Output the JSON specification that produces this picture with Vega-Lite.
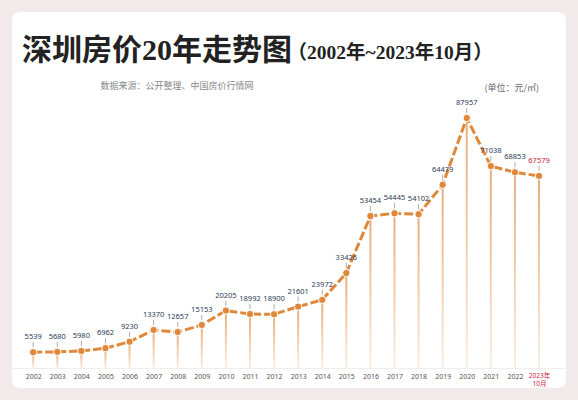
{
  "$schema": "https://vega.github.io/schema/vega-lite/v6.json",
  "width": 554,
  "height": 376,
  "autosize": "none",
  "padding": {"left": 12, "top": 12, "right": 12, "bottom": 12},
  "background": "#f2eaea",
  "config": {
    "view": {"fill": "white", "stroke": null, "cornerRadius": 8}
  },
  "title": {
    "text": "深圳房价20年走势图",
    "anchor": "start",
    "frame": "group",
    "font": "Liberation Serif, Noto Sans CJK SC",
    "fontSize": 30,
    "fontWeight": "bold",
    "color": "#222222",
    "baseline": "alphabetic",
    "offset": 0,
    "dx": 10,
    "dy": 78
  },
  "data": {
    "values": [
      {"year": "2002", "price": 5539},
      {"year": "2003", "price": 5680},
      {"year": "2004", "price": 5980},
      {"year": "2005", "price": 6962},
      {"year": "2006", "price": 9230},
      {"year": "2007", "price": 13370},
      {"year": "2008", "price": 12657},
      {"year": "2009", "price": 15153},
      {"year": "2010", "price": 20205},
      {"year": "2011", "price": 18992},
      {"year": "2012", "price": 18900},
      {"year": "2013", "price": 21601},
      {"year": "2014", "price": 23972},
      {"year": "2015", "price": 33426},
      {"year": "2016", "price": 53454},
      {"year": "2017", "price": 54445},
      {"year": "2018", "price": 54102},
      {"year": "2019", "price": 64479},
      {"year": "2020", "price": 87957},
      {"year": "2021", "price": 71038},
      {"year": "2022", "price": 68853},
      {"year": "2023", "price": 67579}
    ]
  },
  "resolve": {"axis": {"x": "independent", "y": "independent"}},
  "layer": [
    {
      "mark": {
        "type": "bar",
        "size": 2,
        "color": {
          "gradient": "linear",
          "x1": 0, "y1": 0, "x2": 0, "y2": 1,
          "stops": [
            {"offset": 0, "color": "#e8ac78"},
            {"offset": 1, "color": "#fbeee3"}
          ]
        }
      },
      "encoding": {
        "x": {
          "field": "year",
          "type": "ordinal",
          "scale": {"type": "point", "padding": 1.055, "align": 0.44},
          "axis": {
            "orient": "bottom",
            "title": null,
            "offset": -20,
            "ticks": false,
            "domainColor": "#eeeeee",
            "labelAngle": 0,
            "labelOverlap": false,
            "labelFont": "Noto Sans, Noto Sans CJK SC",
            "labelFontSize": {"condition": {"test": "datum.label == '2023'", "value": 6.5}, "value": 7},
            "labelPadding": 4,
            "labelBaseline": "top",
            "labelLineHeight": 8,
            "labelColor": {"condition": {"test": "datum.label == '2023'", "value": "#c8203a"}, "value": "#555555"},
            "labelExpr": "datum.label == '2023' ? ['2023年', '10月'] : datum.label"
          }
        },
        "y": {
          "field": "price",
          "type": "quantitative",
          "scale": {"domain": [-7040, 125260], "nice": false, "zero": false},
          "axis": {
            "orient": "left",
            "labels": false,
            "ticks": false,
            "domain": false,
            "grid": false,
            "title": "（2002年~2023年10月）",
            "titleAngle": 0,
            "titleX": 275,
            "titleY": 46,
            "titleAlign": "left",
            "titleBaseline": "alphabetic",
            "titleFont": "Liberation Serif, Noto Sans CJK SC",
            "titleFontSize": 19.5,
            "titleFontWeight": "bold",
            "titleColor": "#222222"
          }
        },
        "y2": {"datum": 0}
      }
    },
    {
      "mark": {"type": "rule", "color": "#8a8a8a", "strokeWidth": 0.7, "yOffset": -5, "y2Offset": -10},
      "encoding": {
        "x": {"field": "year", "type": "ordinal", "axis": null},
        "y": {"field": "price", "type": "quantitative", "axis": null},
        "y2": {"field": "price"}
      }
    },
    {
      "mark": {"type": "line", "color": "#e0883a", "strokeWidth": 3, "strokeDash": [9, 3]},
      "encoding": {
        "x": {"field": "year", "type": "ordinal", "axis": null},
        "y": {
          "field": "price",
          "type": "quantitative",
          "axis": {
            "orient": "right",
            "labels": false,
            "ticks": false,
            "domain": false,
            "grid": false,
            "title": "(单位：元/㎡)",
            "titleAngle": 0,
            "titleX": -82,
            "titleY": 75,
            "titleAlign": "left",
            "titleBaseline": "middle",
            "titleFont": "Noto Sans CJK SC",
            "titleFontSize": 9,
            "titleFontWeight": "normal",
            "titleColor": "#666666"
          }
        }
      }
    },
    {
      "mark": {"type": "circle", "size": 55, "color": "#e0883a", "opacity": 1, "stroke": "white", "strokeWidth": 1},
      "encoding": {
        "x": {
          "field": "year",
          "type": "ordinal",
          "axis": {
            "orient": "top",
            "labels": false,
            "ticks": false,
            "domain": false,
            "title": "数据来源：公开整理、中国房价行情网",
            "titleX": 88,
            "titleY": 73,
            "titleAlign": "left",
            "titleBaseline": "middle",
            "titleFont": "Noto Sans CJK SC",
            "titleFontSize": 9,
            "titleFontWeight": "normal",
            "titleColor": "#888888"
          }
        },
        "y": {"field": "price", "type": "quantitative", "axis": null}
      }
    },
    {
      "mark": {"type": "text", "dy": -15, "fontSize": 7.5, "font": "Noto Sans"},
      "encoding": {
        "x": {"field": "year", "type": "ordinal", "axis": null},
        "y": {"field": "price", "type": "quantitative", "axis": null},
        "text": {"field": "price", "type": "quantitative", "format": "d"},
        "color": {
          "condition": {"test": "datum.year == '2023'", "value": "#c8203a"},
          "value": "#2b3a55"
        }
      }
    }
  ]
}
